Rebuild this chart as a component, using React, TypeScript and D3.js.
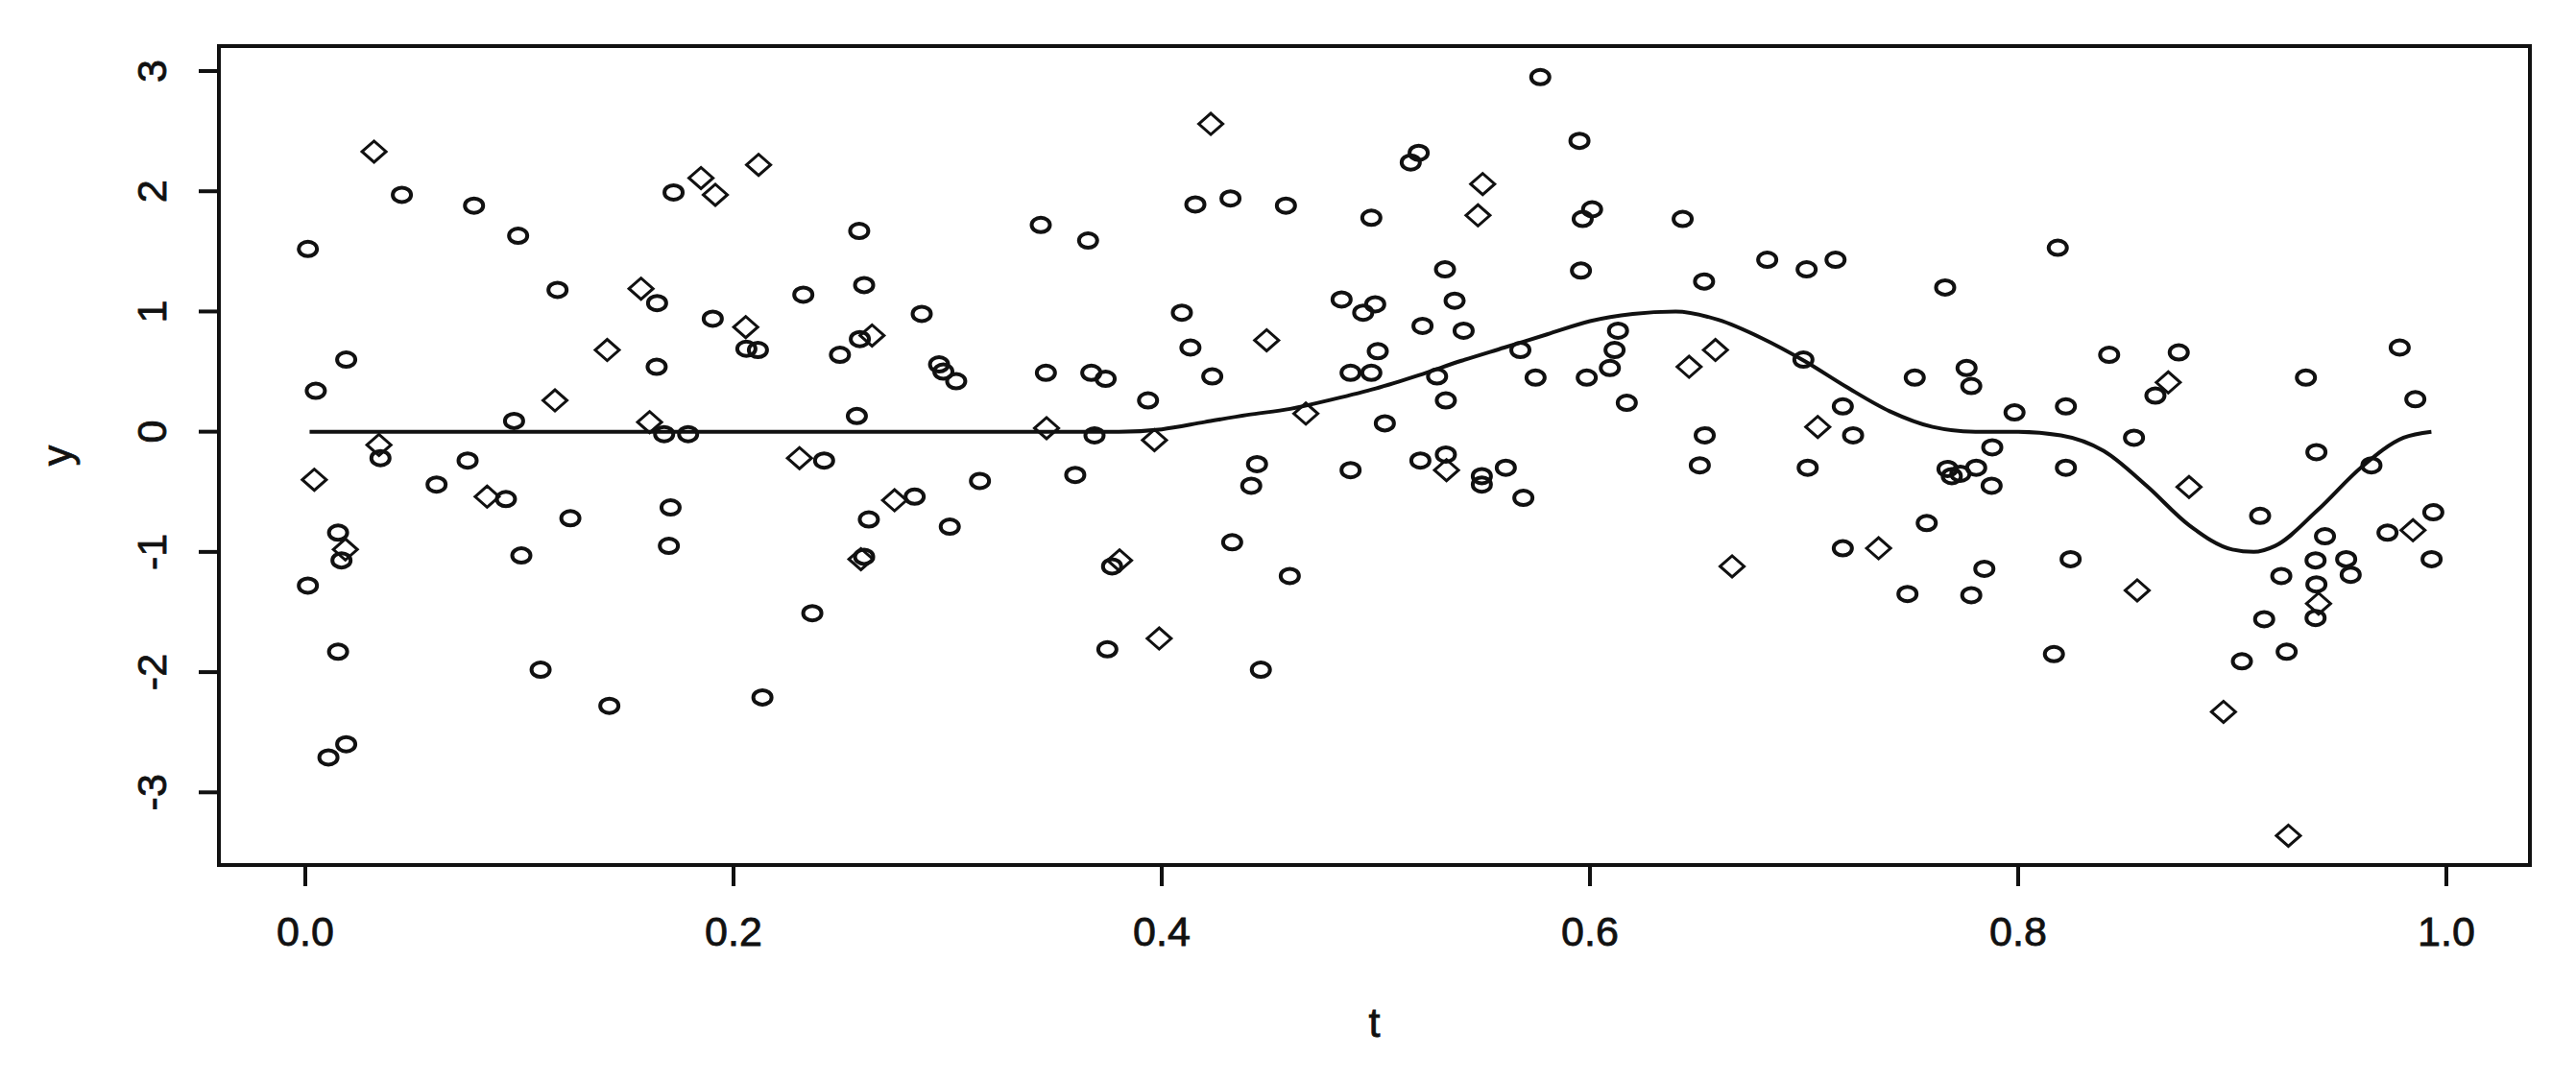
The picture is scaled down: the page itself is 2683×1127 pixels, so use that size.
import React, { useEffect, useRef } from 'react';
import * as d3 from 'd3';

// observations drawn as open circles: [t, y]
const circlePoints: [number, number][] = [
  [0.0012, 1.52], [0.0012, -1.28], [0.0049, 0.34], [0.0108, -2.71], [0.0153, -0.84],
  [0.0153, -1.83], [0.0169, -1.07], [0.0191, 0.6], [0.0191, -2.6], [0.0351, -0.22],
  [0.0451, 1.97], [0.0613, -0.44], [0.0758, -0.24], [0.0788, 1.88], [0.0937, -0.56],
  [0.0975, 0.09], [0.0994, 1.63], [0.1009, -1.03], [0.1099, -1.98], [0.1178, 1.18],
  [0.1238, -0.72], [0.142, -2.28],
  [0.1641, 0.54], [0.1643, 1.07], [0.1676, -0.02], [0.1698, -0.95], [0.1706, -0.63],
  [0.172, 1.99], [0.1788, -0.02], [0.1903, 0.94], [0.206, 0.69], [0.2114, 0.68],
  [0.2135, -2.21], [0.2326, 1.14], [0.2368, -1.51], [0.2423, -0.24], [0.2497, 0.64],
  [0.2576, 0.13], [0.2587, 1.67], [0.259, 0.77], [0.261, 1.22], [0.261, -1.04],
  [0.2632, -0.73], [0.2846, -0.54], [0.2879, 0.98], [0.296, 0.56], [0.298, 0.5],
  [0.301, -0.79], [0.304, 0.42], [0.3151, -0.41],
  [0.3435, 1.72], [0.3459, 0.49], [0.3596, -0.36], [0.3656, 1.59], [0.3671, 0.49],
  [0.3686, -0.03], [0.3738, 0.44], [0.3746, -1.81], [0.3768, -1.12], [0.3936, 0.26],
  [0.4094, 0.99], [0.4134, 0.7], [0.4157, 1.89], [0.4236, 0.46], [0.4321, 1.94],
  [0.4329, -0.92], [0.4418, -0.45], [0.4445, -0.27], [0.4463, -1.98], [0.458, 1.88],
  [0.4598, -1.2], [0.484, 1.1], [0.4882, 0.49], [0.4882, -0.32], [0.4941, 0.99],
  [0.4979, 1.78], [0.4979, 0.49], [0.4997, 1.06], [0.5009, 0.67], [0.5042, 0.07],
  [0.5163, 2.24], [0.52, 2.32], [0.5208, -0.24], [0.5218, 0.88], [0.5286, 0.46],
  [0.5323, 1.35], [0.5327, 0.26], [0.5327, -0.19], [0.5368, 1.09], [0.541, 0.84],
  [0.5495, -0.37], [0.5495, -0.44], [0.5607, -0.3], [0.5675, 0.68], [0.5689, -0.55],
  [0.5746, 0.45], [0.5768, 2.95], [0.5951, 2.42], [0.5958, 1.34], [0.5966, 1.77],
  [0.5985, 0.45], [0.601, 1.85], [0.6093, 0.53], [0.6115, 0.68], [0.6131, 0.84],
  [0.6172, 0.24], [0.6433, 1.77], [0.6513, -0.28], [0.6533, 1.25], [0.6536, -0.03],
  [0.6828, 1.43],
  [0.6997, 0.6], [0.7012, 1.35], [0.7017, -0.3], [0.7147, 1.43], [0.7181, 0.21],
  [0.7181, -0.97], [0.7229, -0.03], [0.7483, -1.35], [0.7517, 0.45], [0.7573, -0.76],
  [0.7659, 1.2], [0.767, -0.31], [0.769, -0.37], [0.773, -0.35], [0.7759, 0.53],
  [0.7781, 0.38], [0.7781, -1.36], [0.7804, -0.3], [0.7842, -1.14], [0.7876, -0.45],
  [0.7879, -0.13], [0.7983, 0.16], [0.8167, -1.85], [0.8185, 1.53], [0.8223, 0.21],
  [0.8223, -0.3], [0.8245, -1.06], [0.8425, 0.64], [0.8541, -0.05], [0.8641, 0.3],
  [0.875, 0.66], [0.9045, -1.91], [0.913, -0.7], [0.9149, -1.56], [0.9229, -1.2],
  [0.9254, -1.83], [0.9344, 0.45], [0.9389, -1.07], [0.9389, -1.55], [0.9393, -0.17],
  [0.9393, -1.27], [0.9433, -0.87], [0.9532, -1.06], [0.9553, -1.19], [0.965, -0.28],
  [0.9725, -0.84], [0.9782, 0.7], [0.9855, 0.27], [0.9931, -1.06], [0.9939, -0.67],
];

// observations drawn as open diamonds: [t, y]
const diamondPoints: [number, number][] = [
  [0.0042, -0.4], [0.0187, -0.98], [0.0321, 2.33], [0.0344, -0.11], [0.0849, -0.54],
  [0.1166, 0.26], [0.141, 0.68],
  [0.1568, 1.19], [0.1608, 0.08], [0.1848, 2.11], [0.1915, 1.97], [0.2057, 0.87],
  [0.2117, 2.22], [0.2308, -0.22], [0.2595, -1.06], [0.2647, 0.8], [0.2752, -0.57],
  [0.3462, 0.03], [0.3803, -1.07], [0.3966, -0.07], [0.3988, -1.72], [0.4229, 2.56],
  [0.449, 0.76], [0.4673, 0.15],
  [0.533, -0.32], [0.5477, 1.8], [0.5499, 2.06], [0.6463, 0.54], [0.6586, 0.68],
  [0.6664, -1.12],
  [0.7064, 0.04], [0.7348, -0.97], [0.8556, -1.32],
  [0.8701, 0.41], [0.8798, -0.46], [0.8959, -2.33], [0.9262, -3.36], [0.9403, -1.43],
  [0.9844, -0.82],
];

// true regression function
const curveT = [
  0.002, 0.1, 0.2, 0.3, 0.38, 0.4, 0.42, 0.44, 0.46, 0.48, 0.5, 0.52, 0.54, 0.56, 0.58,
  0.6, 0.62, 0.64, 0.66, 0.68, 0.7, 0.72, 0.74, 0.76, 0.78, 0.8, 0.82, 0.84, 0.86, 0.88,
  0.9, 0.91, 0.92, 0.94, 0.96, 0.98, 0.993,
];
const curveY = [
  0, 0, 0, 0, 0, 0.02, 0.08, 0.14, 0.19, 0.27, 0.36, 0.47, 0.59, 0.7, 0.81,
  0.92, 0.98, 1.0, 0.93, 0.78, 0.59, 0.37, 0.17, 0.04, 0, 0, -0.03, -0.16, -0.45, -0.78,
  -0.98, -1.0, -0.95, -0.65, -0.3, -0.05, 0,
];

const xTicks = [0, 0.2, 0.4, 0.6, 0.8, 1.0];
const yTicks = [-3, -2, -1, 0, 1, 2, 3];

const W = 2683;
const H = 1127;
const FONT = '"Liberation Sans", Arial, sans-serif';

const App = () => {
  const ref = useRef<SVGSVGElement | null>(null);

  useEffect(() => {
    const svg = d3.select(ref.current);
    svg.selectAll('*').remove();

    // plot region (R style, 4% padding)
    const left = 228, right = 2635, top = 48, bottom = 901;

    const x = d3.scaleLinear().domain([0, 1]).range([318, 2548]);
    const y = d3.scaleLinear().domain([-3, 3]).range([825.3, 74]);

    const label = (sel: any) =>
      sel.attr('font-family', FONT).attr('font-size', 43)
        .attr('fill', '#111').attr('stroke', '#111').attr('stroke-width', 0.8);

    // box
    svg.append('rect')
      .attr('x', left).attr('y', top)
      .attr('width', right - left).attr('height', bottom - top)
      .attr('fill', 'none').attr('stroke', '#111').attr('stroke-width', 4);

    // x axis ticks + labels
    const gx = svg.append('g');
    gx.selectAll('line').data(xTicks).enter().append('line')
      .attr('x1', d => x(d)).attr('x2', d => x(d))
      .attr('y1', bottom).attr('y2', bottom + 22)
      .attr('stroke', '#111').attr('stroke-width', 4);
    gx.selectAll('text').data(xTicks).enter().append('text')
      .attr('x', d => x(d)).attr('y', 985)
      .attr('text-anchor', 'middle')
      .call(label)
      .text(d => d.toFixed(1));

    // y axis ticks + labels
    const gy = svg.append('g');
    gy.selectAll('line').data(yTicks).enter().append('line')
      .attr('x1', left - 21).attr('x2', left)
      .attr('y1', d => y(d)).attr('y2', d => y(d))
      .attr('stroke', '#111').attr('stroke-width', 4);
    gy.selectAll('text').data(yTicks).enter().append('text')
      .attr('transform', d => `translate(173,${y(d)}) rotate(-90)`)
      .attr('text-anchor', 'middle')
      .call(label)
      .text(d => String(d));

    // axis titles
    svg.append('text')
      .attr('x', (left + right) / 2).attr('y', 1080)
      .attr('text-anchor', 'middle')
      .call(label)
      .text('t');
    svg.append('text')
      .attr('transform', `translate(74,${(top + bottom) / 2}) rotate(-90)`)
      .attr('text-anchor', 'middle')
      .call(label)
      .text('y');

    // curve
    const curveData = curveT.map((t, i) => [t, curveY[i]] as [number, number]);
    const line = d3.line<[number, number]>()
      .x(d => x(d[0]))
      .y(d => y(d[1]))
      .curve(d3.curveMonotoneX);
    svg.append('path')
      .datum(curveData)
      .attr('fill', 'none')
      .attr('stroke', '#111')
      .attr('stroke-width', 4)
      .attr('d', line);

    // circles
    svg.append('g').selectAll('ellipse')
      .data(circlePoints).enter().append('ellipse')
      .attr('cx', d => x(d[0])).attr('cy', d => y(d[1]))
      .attr('rx', 9.5).attr('ry', 7.5)
      .attr('fill', 'none').attr('stroke', '#111').attr('stroke-width', 4);

    // diamonds
    const diamond = (cx: number, cy: number) =>
      `M${cx - 12.5},${cy}L${cx},${cy - 11}L${cx + 12.5},${cy}L${cx},${cy + 11}Z`;
    svg.append('g').selectAll('path')
      .data(diamondPoints).enter().append('path')
      .attr('d', d => diamond(x(d[0]), y(d[1])))
      .attr('fill', 'none').attr('stroke', '#111').attr('stroke-width', 3);
  }, []);

  return (
    <svg
      ref={ref}
      width={W}
      height={H}
      style={{ position: 'absolute', left: 0, top: 0, background: '#fff' }}
    />
  );
};

export default App;
